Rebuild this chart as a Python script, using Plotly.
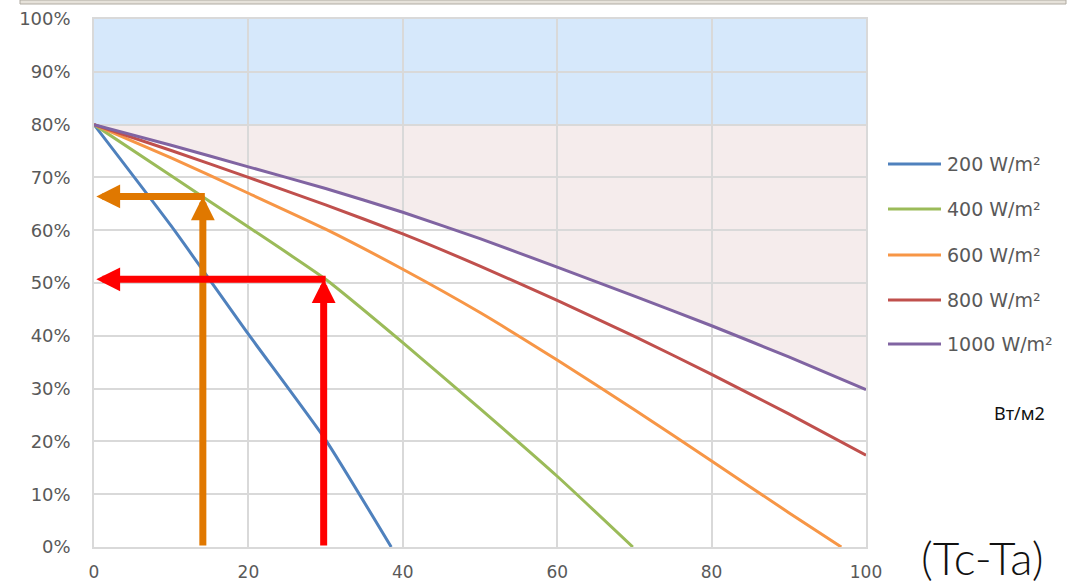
import plotly.graph_objects as go

# ---------------- data ----------------
series_names = ["200 W/m²", "400 W/m²", "600 W/m²", "800 W/m²", "1000 W/m²"]
series_colors = ["#4F81BD", "#9BBB59", "#F79646", "#C0504D", "#8064A2"]

x_200 = [0, 10, 20, 30, 38.5]
y_200 = [80, 60.8, 40.3, 20.3, 0]

x_400 = [0, 10, 20, 30, 40, 50, 60, 69.8]
y_400 = [80, 70.3, 60.6, 50.7, 38.7, 26.2, 13.4, 0]

x_600 = [0, 10, 20, 30, 40, 50, 60, 70, 80, 90, 96.8]
y_600 = [80, 73.7, 67.0, 60.2, 52.6, 44.4, 35.4, 26.0, 16.3, 6.5, 0]

x_800 = [0, 10, 20, 30, 40, 50, 60, 70, 80, 90, 100]
y_800 = [80, 75.1, 70.0, 64.8, 59.3, 53.2, 46.7, 39.9, 32.7, 25.2, 17.4]

x_1000 = [0, 10, 20, 30, 40, 50, 60, 70, 80, 90, 100]
y_1000 = [80, 76.1, 72.0, 67.9, 63.4, 58.4, 53.0, 47.5, 41.9, 36.0, 29.8]

xs = [x_200, x_400, x_600, x_800, x_1000]
ys = [y_200, y_400, y_600, y_800, y_1000]

x_ticks = [0, 20, 40, 60, 80, 100]
y_ticks = [0, 10, 20, 30, 40, 50, 60, 70, 80, 90, 100]

limit_level = 80          # top of pink zone / bottom of blue zone
arrow_x = [14.1, 29.75]   # orange, red arrows (x position of vertical arrow)
arrow_y = [66.4, 50.7]    # level where they meet the 400 W/m² curve
arrow_colors = ["#E07800", "#FF0000"]

# ---------------- layout geometry (pixels) ----------------
W, H = 1074, 585
L, R, T, B = 94, 208, 19, 38
PW, PH = W - L - R, H - T - B


def px(xp):
    return (xp - L) / PW


def py(yp):
    return (H - B - yp) / PH


fig = go.Figure()

# curves
for name, col, x, y in zip(series_names, series_colors, xs, ys):
    fig.add_trace(go.Scatter(x=x, y=y, mode="lines", name=name,
                             line=dict(color=col, width=3, shape="spline", smoothing=0.5),
                             showlegend=False, hoverinfo="x+y+name"))

shapes = []
# blue zone
shapes.append(dict(type="rect", xref="x", yref="y", x0=0, x1=100, y0=limit_level, y1=100,
                   fillcolor="#D6E8FB", line=dict(width=0), layer="below"))
# pink zone between 80% and the 1000 W/m² curve
path = f"M {x_1000[0]},{limit_level} " + " ".join(f"L {a},{b}" for a, b in zip(x_1000, y_1000)) \
       + f" L {x_1000[-1]},{limit_level} Z"
shapes.append(dict(type="path", xref="x", yref="y", path=path,
                   fillcolor="#F5ECEC", line=dict(width=0), layer="below"))

# legend (manual)
legend_y_px = [164, 209, 255, 300, 344]
for name, col, ly in zip(series_names, series_colors, legend_y_px):
    shapes.append(dict(type="line", xref="paper", yref="paper",
                       x0=px(888), x1=px(941), y0=py(ly), y1=py(ly),
                       line=dict(color=col, width=3)))

# screenshot residue at the top
shapes.append(dict(type="rect", xref="paper", yref="paper",
                   x0=px(20), x1=px(1066), y0=py(0), y1=py(4),
                   fillcolor="#E6E2DA", line=dict(color="#B0ABA2", width=1)))

annotations = []
for name, ly in zip(series_names, legend_y_px):
    annotations.append(dict(xref="paper", yref="paper", x=px(945), y=py(ly),
                            text=name, showarrow=False, xanchor="left", yanchor="middle",
                            font=dict(family="DejaVu Sans", size=19, color="#595959")))

# arrows
for axv, lvl, col in zip(arrow_x, arrow_y, arrow_colors):
    # vertical arrow up to the curve
    annotations.append(dict(xref="x", yref="y", axref="x", ayref="y",
                            x=axv, y=lvl, ax=axv, ay=0, text="", showarrow=True,
                            arrowhead=2, arrowsize=0.68, arrowwidth=7, arrowcolor=col,
                            standoff=0, startstandoff=0))
    # horizontal arrow to the y axis
    annotations.append(dict(xref="x", yref="y", axref="x", ayref="y",
                            x=0.3, y=lvl, ax=axv + 0.45, ay=lvl, text="", showarrow=True,
                            arrowhead=2, arrowsize=0.68, arrowwidth=7, arrowcolor=col,
                            standoff=0, startstandoff=0))

annotations.append(dict(xref="paper", yref="paper", x=px(1047), y=py(413),
                        text="Вт/м2", showarrow=False, xanchor="right", yanchor="middle",
                        font=dict(family="Noto Sans", size=18, color="#111111")))
annotations.append(dict(xref="paper", yref="paper", x=px(1046), y=py(557),
                        text="(Tc-Ta)", showarrow=False, xanchor="right", yanchor="middle",
                        font=dict(family="Lato", size=46, color="#111111", weight=300)))

fig.update_layout(
    width=W, height=H,
    margin=dict(l=L, r=R, t=T, b=B, pad=0, autoexpand=False),
    paper_bgcolor="white", plot_bgcolor="white",
    shapes=shapes, annotations=annotations,
    showlegend=False,
    xaxis=dict(range=[0, 100], tickvals=x_ticks, ticktext=[str(v) for v in x_ticks],
               automargin=False,
               showgrid=True, gridcolor="#D9D9D9", gridwidth=1.5,
               zeroline=False, showline=True, mirror=True, linecolor="#D9D9D9", linewidth=1.5,
               ticks="", ticklabelstandoff=9,
               tickfont=dict(family="DejaVu Sans", size=17, color="#595959")),
    yaxis=dict(range=[0, 100], tickvals=y_ticks, ticktext=[f"{v}%" for v in y_ticks],
               automargin=False,
               showgrid=True, gridcolor="#D9D9D9", gridwidth=1.5,
               zeroline=False, showline=True, mirror=True, linecolor="#D9D9D9", linewidth=1.5,
               ticks="", ticklabelstandoff=18,
               tickfont=dict(family="DejaVu Sans", size=18, color="#595959")),
)

fig.write_html(
    "out.html",
    config={"displayModeBar": False},
    post_script=("var d=document.documentElement,b=document.body;"
                 "d.style.margin='0';d.style.padding='0';d.style.height='585px';d.style.overflow='hidden';"
                 "b.style.margin='0';b.style.padding='0';b.style.height='585px';b.style.overflow='hidden';"),
)
